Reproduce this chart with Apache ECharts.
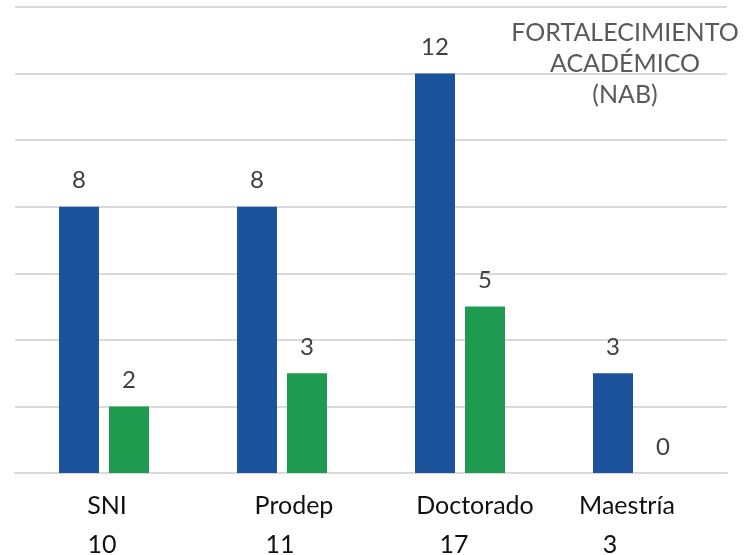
<!DOCTYPE html>
<html>
<head>
<meta charset="utf-8">
<script src="https://cdn.jsdelivr.net/npm/echarts@6/dist/echarts.min.js"></script>
<style>
  html, body { margin: 0; padding: 0; background: #fff; }
  #chart { width: 749px; height: 555px; }
</style>
</head>
<body>
<div id="chart"></div>
<script>
// categorias y totales que van debajo del nombre
const categories = ["SNI", "Prodep", "Doctorado", "Maestría"];
const totals = [10, 11, 17, 3];
// series
const blueValues = [8, 8, 12, 3];
const greenValues = [2, 3, 5, 0];

// corrimiento horizontal de las etiquetas (px), nombre y total
const nameShift = [3, 12, 15, -11];
const totalShift = [-2, -2, -6, -28];

function shiftPad(dx) {
  // padding en un lado mueve el texto centrado la mitad
  return dx >= 0 ? [0, 0, 0, 2 * dx] : [0, -2 * dx, 0, 0];
}

const rich = {};
categories.forEach((c, i) => {
  rich["n" + i] = {
    fontFamily: "Lato", fontSize: 25, color: "#111", lineHeight: 40,
    padding: shiftPad(nameShift[i]),
  };
  rich["t" + i] = {
    fontFamily: "Lato", fontSize: 25, color: "#111", lineHeight: 38,
    padding: shiftPad(totalShift[i]),
  };
});

const chart = echarts.init(document.getElementById("chart"));
const option = {
  animation: false,
  title: {
    text: "FORTALECIMIENTO\nACADÉMICO\n(NAB)",
    left: 625,
    top: 17,
    padding: 0,
    textAlign: "center",
    textStyle: {
      fontFamily: "Lato",
      fontWeight: "normal",
      fontSize: 25,
      lineHeight: 31,
      color: "#595959",
    },
  },
  grid: { left: 15, right: 22, top: 7, bottom: 82, outerBoundsMode: "none", containLabel: false },
  xAxis: {
    type: "category",
    data: categories,
    axisLine: { show: true, lineStyle: { color: "#d9d9d9", width: 2 } },
    axisTick: { show: false },
    axisLabel: {
      margin: 13,
      interval: 0,
      formatter: (val, idx) => `{n${idx}|${val}}\n{t${idx}|${totals[idx]}}`,
      rich: rich,
    },
  },
  yAxis: {
    type: "value",
    min: 0,
    max: 14,
    interval: 2,
    axisLabel: { show: false },
    axisLine: { show: false },
    axisTick: { show: false },
    splitLine: { lineStyle: { color: "#d9d9d9", width: 2 } },
  },
  series: [
    {
      name: "azul",
      type: "bar",
      data: blueValues,
      barWidth: 40,
      barGap: "25%",
      itemStyle: { color: "#1A529B" },
      label: {
        show: true,
        position: "top",
        distance: 14,
        fontFamily: "Lato",
        fontSize: 24,
        color: "#404040",
      },
    },
    {
      name: "verde",
      type: "bar",
      data: greenValues,
      barWidth: 40,
      itemStyle: { color: "#1E9B4E" },
      label: {
        show: true,
        position: "top",
        distance: 14,
        fontFamily: "Lato",
        fontSize: 24,
        color: "#404040",
      },
    },
  ],
};
chart.setOption(option);
</script>
</body>
</html>
